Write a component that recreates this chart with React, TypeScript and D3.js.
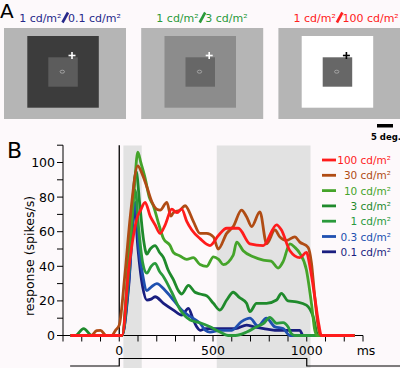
import React from "react";
import { scaleLinear, line, curveMonotoneX, range } from "d3";

// time (ms) / response (spikes/s)
const resp01: [number, number][] = [
  [-260, 0], [15, 0], [50, 28], [82, 74], [100, 50], [125, 28], [147, 20.5], [170, 21], [191, 22.4],
  [236, 18.6], [289, 14.7], [333, 11.8], [369, 15.7], [395, 9], [413, 5], [431, 3], [460, 4], [500, 4],
  [560, 4], [620, 4], [679, 6], [720, 5], [770, 4], [830, 3], [900, 3], [963, 3], [980, 0], [1255, 0],
];
const resp03: [number, number][] = [
  [-260, 0], [15, 0], [50, 30], [86, 77], [105, 50], [125, 35], [147, 26], [170, 28], [200, 30],
  [245, 26], [289, 20.5], [333, 14.7], [378, 11], [431, 7], [460, 3], [484, 2], [540, 3], [600, 3],
  [652, 8], [697, 10], [740, 5.5], [785, 10], [830, 5], [874, 4], [910, 0], [1255, 0],
];
const resp1: [number, number][] = [
  [-260, 0], [15, 0], [50, 35], [85, 84], [105, 60], [125, 42], [147, 36], [170, 40], [191, 41.7],
  [215, 37], [236, 34], [280, 25], [324, 15], [378, 9], [431, 7.4], [484, 5], [537, 2], [580, 0],
  [620, 0], [680, 2], [732, 5], [770, 7], [803, 10.5], [840, 7], [874, 7.5], [900, 5], [918, 1],
  [936, 0], [1255, 0],
];
const resp3: [number, number][] = [
  [-260, 0], [-235, 0], [-190, 4], [-145, 0], [15, 0], [50, 40], [90, 95], [110, 75], [130, 55],
  [147, 47], [165, 50], [191, 52], [215, 48], [236, 45], [260, 38], [290, 32], [315, 26], [333, 24],
  [369, 29], [404, 25], [431, 24], [466, 23], [502, 18.6], [537, 14.7], [573, 20.5], [608, 25],
  [640, 22], [679, 18.6], [697, 13.8], [732, 18.6], [785, 18.6], [839, 20.5], [865, 24.4], [900, 20],
  [945, 19.5], [998, 17.6], [1034, 11], [1060, 0], [1255, 0],
];
const resp10: [number, number][] = [
  [-260, 0], [15, 0], [50, 45], [80, 85], [99, 106], [115, 100], [138, 91], [160, 80], [182, 75],
  [209, 65], [236, 56], [271, 52], [289, 48], [324, 46], [360, 44], [395, 45], [431, 41], [466, 40],
  [502, 45.5], [530, 44], [555, 41], [608, 46.5], [626, 54], [661, 49], [715, 45.5], [768, 43.6],
  [810, 43], [847, 39], [874, 42.7], [910, 53], [936, 51], [963, 47.5], [998, 38], [1025, 18.6],
  [1043, 3], [1055, 0], [1255, 0],
];
const resp30: [number, number][] = [
  [-260, 0], [-150, 0], [-120, 2.8], [-100, 3], [-70, 0], [-40, 0], [-20, 3], [0, 6], [30, 35],
  [60, 70], [99, 98], [120, 94], [147, 86], [175, 77], [200, 73], [218, 72.5], [254, 77], [275, 69],
  [289, 71], [324, 72.5], [351, 75], [395, 66], [431, 59], [466, 59], [502, 57], [528, 50], [573, 59],
  [608, 63], [652, 72.5], [679, 68.7], [706, 63], [750, 71.5], [786, 53], [830, 61], [856, 57],
  [892, 55], [936, 57], [963, 54], [1007, 51], [1025, 42], [1043, 22], [1069, 1], [1080, 0], [1255, 0],
];
const resp100: [number, number][] = [
  [-260, 0], [15, 0], [50, 38], [76, 58], [95, 68], [112, 72], [138, 77], [165, 69], [191, 64],
  [218, 59], [245, 64], [280, 73], [307, 71], [333, 73], [360, 66], [387, 61], [431, 56], [484, 52],
  [530, 58], [573, 62], [635, 62], [697, 53], [768, 52], [839, 64], [865, 61], [910, 49], [963, 45],
  [998, 48], [1020, 38], [1043, 22], [1065, 6], [1078, 0], [1255, 0],
];

const legendLabels = ["100 cd/m²", "30 cd/m²", "10 cd/m²", "3 cd/m²", "1 cd/m²", "0.3 cd/m²", "0.1 cd/m²"];
const seriesColors = ["#ff1c1c", "#b04c14", "#45a42a", "#1f8a2c", "#2a9a3c", "#2050b0", "#1a1e80"];
const seriesData = [resp100, resp30, resp10, resp3, resp1, resp03, resp01];

const shadedWindows: [number, number][] = [[22, 120], [520, 1020]];
const yTicks = range(0, 111, 10);
const yLabels = [0, 20, 40, 60, 80, 100];
const xTicks = range(-300, 1301, 100);
const xLabels = [0, 500, 1000];

// panel A stimulus squares: surround grey / centre grey, plus title parts
const panelTitles = [
  { left: "1 cd/m²", right: "0.1 cd/m²", color: "#26288a" },
  { left: "1 cd/m²", right: "3 cd/m²", color: "#2a9a3a" },
  { left: "1 cd/m²", right: "100 cd/m²", color: "#ff2020" },
];
const surroundFill = ["#3c3c3c", "#8c8c8c", "#ffffff"];
const centreFill = ["#5c5c5c", "#676767", "#676767"];
const crossColor = ["#ffffff", "#ffffff", "#000000"];

const FONT = "DejaVu Sans, Verdana, sans-serif";

const Panel = ({ i }: { i: number }) => {
  const x0 = 4 + i * 137.2;
  const t = panelTitles[i];
  return (
    <g transform={`translate(${x0},0)`}>
      <rect x={0} y={28} width={122} height={91} fill="#b5b5b5" />
      <rect x={23.3} y={36} width={71.5} height={71.7} fill={surroundFill[i]} />
      <rect x={44.3} y={57.3} width={29.5} height={29.4} fill={centreFill[i]} />
      <ellipse cx={58.3} cy={71.7} rx={2.2} ry={1.5} fill="none" stroke="#b0b0b0" strokeWidth={0.8} />
      <g stroke={crossColor[i]} strokeWidth={1.6}>
        <line x1={64.5} x2={71.5} y1={55.5} y2={55.5} />
        <line x1={68} x2={68} y1={52} y2={59} />
      </g>
      <text x={57.5} y={22} textAnchor="end" fill={t.color} fontSize={11} fontFamily={FONT}>
        {t.left}
      </text>
      <line x1={58.5} y1={22.5} x2={64} y2={12.5} stroke={t.color} strokeWidth={2.6} />
      <text x={64} y={22} fill={t.color} fontSize={11} fontFamily={FONT}>
        {t.right}
      </text>
    </g>
  );
};

export default function App() {
  const x = scaleLinear().domain([-300, 1300]).range([63, 363]);
  const y = scaleLinear().domain([0, 110]).range([335.5, 145.2]);
  const path = line<[number, number]>()
    .x((d) => x(d[0]))
    .y((d) => y(d[1]))
    .curve(curveMonotoneX);

  const stim = `M${x(-262)},366 H${x(0)} V358.5 H${x(1000)} V366 H400`;

  return (
    <div style={{ position: "absolute", left: 0, top: 0 }}>
      <svg width={400} height={368} style={{ display: "block", background: "#fdf9fb" }}>
        <text x={0} y={18} fontSize={20} fontFamily={FONT}>A</text>
        {[0, 1, 2].map((i) => (
          <Panel key={i} i={i} />
        ))}
        <rect x={377} y={124} width={16} height={3.5} fill="#000" />
        <text x={386} y={140} textAnchor="middle" fontSize={8.5} fontWeight="bold" fontFamily={FONT}>
          5 deg.
        </text>

        <text x={7} y={158} fontSize={22} fontFamily={FONT}>B</text>

        {shadedWindows.map(([a, b], i) => (
          <rect key={i} x={x(a)} y={145.5} width={x(b) - x(a)} height={368 - 145.5} fill="#e2e2e2" />
        ))}

        {/* y axis */}
        <line x1={63} x2={63} y1={y(110)} y2={y(0)} stroke="#000" strokeWidth={1} />
        {yTicks.map((v) => (
          <line key={v} x1={57} x2={63} y1={y(v)} y2={y(v)} stroke="#000" strokeWidth={1} />
        ))}
        {yLabels.map((v) => (
          <text key={v} x={55} y={y(v) + 4.5} textAnchor="end" fontSize={12.5} fontFamily={FONT}>
            {v}
          </text>
        ))}
        <text
          transform={`translate(34,${256}) rotate(-90)`}
          textAnchor="middle"
          fontSize={12.5}
          fontFamily={FONT}
        >
          response (spikes/s)
        </text>

        {/* x axis */}
        <line x1={x(-300)} x2={x(1300)} y1={y(0)} y2={y(0)} stroke="#000" strokeWidth={1} />
        {xTicks.map((t) => (
          <line key={t} x1={x(t)} x2={x(t)} y1={y(0)} y2={y(0) + 6} stroke="#000" strokeWidth={1} />
        ))}
        {xLabels.map((t) => (
          <text key={t} x={x(t)} y={355} textAnchor="middle" fontSize={12.5} fontFamily={FONT}>
            {t}
          </text>
        ))}
        <text x={366} y={355} textAnchor="middle" fontSize={12.5} fontFamily={FONT}>ms</text>

        {/* stimulus onset marker and time course */}
        <line x1={x(0)} x2={x(0)} y1={y(110)} y2={y(0)} stroke="#000" strokeWidth={1.3} />
        <path d={stim} fill="none" stroke="#000" strokeWidth={1.2} />

        {seriesData
          .map((d, i) => ({ d, i }))
          .reverse()
          .map(({ d, i }) => (
            <path key={i} d={path(d) ?? ""} fill="none" stroke={seriesColors[i]} strokeWidth={2.8} strokeLinejoin="round" />
          ))}

        {/* legend */}
        {legendLabels.map((lab, i) => {
          const ly = 160 + i * 15.3;
          return (
            <g key={lab}>
              <line x1={322} x2={336} y1={ly} y2={ly} stroke={seriesColors[i]} strokeWidth={2.8} />
              <text x={391} y={ly + 4} textAnchor="end" fill={seriesColors[i]} fontSize={10.5} fontFamily={FONT}>
                {lab}
              </text>
            </g>
          );
        })}
      </svg>
    </div>
  );
}
